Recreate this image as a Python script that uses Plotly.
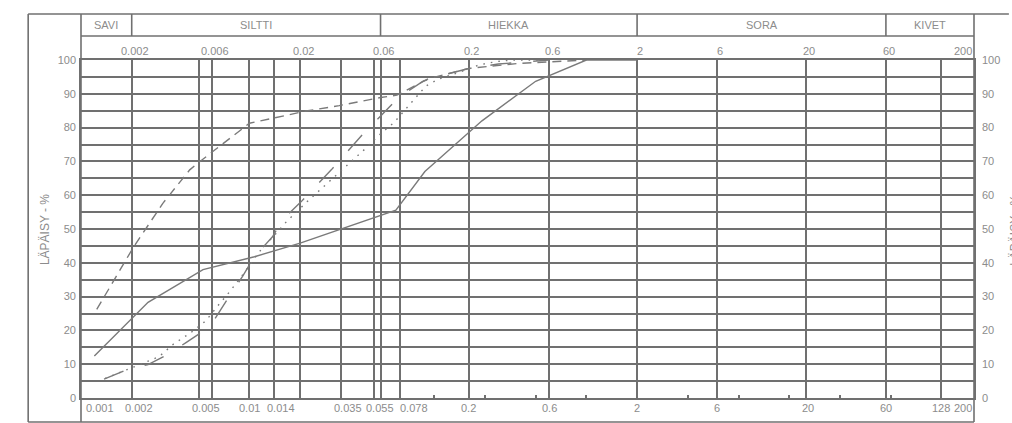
import math
import plotly.graph_objects as go

# Grain size (mm) and passing percentage for each sample curve
solid_size = [0.0012, 0.0025, 0.0053, 0.0107, 0.02, 0.035, 0.074, 0.11, 0.24, 0.5, 1.0, 2.0]
solid_pass = [12.4, 28.3, 38.0, 41.8, 45.8, 50.0, 55.6, 67.0, 82.0, 93.7, 100.0, 100.0]

dashed_size = [0.00124, 0.00203, 0.00306, 0.00442, 0.00506, 0.01, 0.0217, 0.0341, 0.06, 0.075,
               0.116, 0.2, 0.396, 0.6, 1.0]
dashed_pass = [26.2, 44.3, 57.6, 67.5, 69.9, 81.3, 84.9, 86.5, 88.9, 89.6,
               94.5, 97.5, 99.0, 99.5, 100.0]

longdash_size = [0.00137, 0.0019, 0.0025, 0.0033, 0.0042, 0.0058, 0.0078, 0.0091, 0.0107, 0.0137,
                 0.0157, 0.0203, 0.0306, 0.0466, 0.0564, 0.0711, 0.0861, 0.108, 0.143, 0.2,
                 0.3, 0.45, 0.6]
longdash_pass = [5.6, 8.5, 9.9, 13.0, 16.4, 21.0, 31.0, 36.0, 41.8, 47.7,
                 52.7, 58.1, 67.5, 77.8, 82.0, 87.2, 90.6, 93.8, 95.6, 97.5,
                 98.8, 99.5, 100.0]

dotted_size = [0.00139, 0.00177, 0.00226, 0.0029, 0.00355, 0.00448, 0.0055, 0.00647, 0.00762, 0.0091,
               0.01146, 0.0137, 0.0166, 0.022, 0.0297, 0.0401, 0.0486, 0.0588, 0.0721, 0.0861,
               0.1014, 0.1115, 0.133, 0.192, 0.229, 0.289, 0.36, 0.6]
dotted_pass = [5.8, 8.0, 10.0, 12.2, 16.0, 19.3, 22.8, 27.2, 31.4, 36.4,
               43.3, 47.5, 52.2, 58.1, 64.0, 69.7, 73.7, 77.8, 81.5, 85.9,
               89.8, 92.3, 94.4, 97.0, 98.5, 99.5, 100.0, 100.0]

# Axis furniture
size_min, size_max = 0.001, 200
grid_sizes = [0.002, 0.005, 0.006, 0.01, 0.014, 0.02, 0.035, 0.055, 0.06, 0.078,
              0.2, 0.6, 2, 6, 20, 60, 128]
minor_sizes = [0.125, 0.25, 0.5, 1, 4, 8, 16, 32, 64]
top_labels = ["0.002", "0.006", "0.02", "0.06", "0.2", "0.6", "2", "6", "20", "60", "200"]
bottom_labels = ["0.001", "0.002", "0.005", "0.01", "0.014", "0.035", "0.055", "0.078",
                 "0.2", "0.6", "2", "6", "20", "60", "128", "200"]
fraction_names = ["SAVI", "SILTTI", "HIEKKA", "SORA", "KIVET"]
fraction_bounds = [0.001, 0.002, 0.06, 2, 60, 200]
pass_grid = list(range(0, 101, 5))
pass_labels = [str(v) if v % 10 == 0 else "" for v in pass_grid]

W, H = 1012, 423
L, R, T, B = 81, 977, 60, 398          # plot area in pixels
LINE = "#707070"
TEXT = "#8c8c8c"
CURVE = "#7a7a7a"
FONT = "Liberation Sans, Arial, sans-serif"
FS = 11

lg_min, lg_max = math.log10(size_min), math.log10(size_max)


def px_x(px):
    return (px - L) / (R - L)


def px_y(py):
    return (B - py) / (B - T)


def size_to_paper(v):
    return (math.log10(v) - lg_min) / (lg_max - lg_min)


fig = go.Figure()

curves = [
    (solid_size, solid_pass, "solid"),
    (dashed_size, dashed_pass, "9px,6px"),
    (longdash_size, longdash_pass, "21px,22px"),
    (dotted_size, dotted_pass, "1.6px,6px"),
]
for xs, ys, dash in curves:
    fig.add_trace(go.Scatter(x=xs, y=ys, mode="lines",
                             line=dict(color=CURVE, width=1.4, dash=dash),
                             hoverinfo="skip", showlegend=False))

# companion trace so the right-hand percentage axis is drawn
fig.add_trace(go.Scatter(x=[size_min], y=[0], yaxis="y2", mode="markers",
                         marker=dict(opacity=0), hoverinfo="skip", showlegend=False))

shapes = []


def seg(x0, y0, x1, y1):
    shapes.append(dict(type="line", xref="paper", yref="paper",
                       x0=x0, y0=y0, x1=x1, y1=y1,
                       line=dict(color=LINE, width=1.6)))


# outer frame and header rows
seg(px_x(28), px_y(14), px_x(28), px_y(422))
seg(px_x(L), px_y(14), px_x(L), px_y(422))
seg(px_x(R), px_y(14), px_x(R), px_y(422))
seg(px_x(28), px_y(14), px_x(W), px_y(14))
seg(px_x(L), px_y(36), px_x(R), px_y(36))
seg(px_x(28), px_y(422), px_x(R), px_y(422))
for b in fraction_bounds[1:-1]:
    seg(size_to_paper(b), px_y(14), size_to_paper(b), px_y(36))

annotations = []
font = dict(family=FONT, size=FS, color=TEXT)

# soil fraction names
for i, name in enumerate(fraction_names):
    lo, hi = fraction_bounds[i], fraction_bounds[i + 1]
    mid = (size_to_paper(lo) + size_to_paper(hi)) / 2
    annotations.append(dict(text=name, xref="paper", yref="paper", x=mid, y=px_y(25),
                            showarrow=False, font=font, xanchor="center", yanchor="middle"))

# size labels above the grid
for lab in top_labels:
    v = float(lab)
    anchor, shift = "center", 3
    if lab == "200":
        anchor, shift = "right", 0
    annotations.append(dict(text=lab, xref="x", yref="paper", x=math.log10(v), y=px_y(51),
                            showarrow=False, font=font, xanchor=anchor, yanchor="middle",
                            xshift=shift))

# size labels below the grid
bottom_shift = {"0.001": 3, "0.002": 7, "0.005": 7, "0.014": 7, "0.035": 7,
                "0.055": 6, "0.078": 14, "20": 2}
for lab in bottom_labels:
    v = float(lab)
    anchor = "center"
    if lab == "0.001":
        anchor = "left"
    if lab == "200":
        anchor = "right"
    annotations.append(dict(text=lab, xref="x", yref="paper", x=math.log10(v), y=px_y(408),
                            showarrow=False, font=font, xanchor=anchor, yanchor="middle",
                            xshift=bottom_shift.get(lab, 0)))

# axis titles (the right-hand copy runs off the page edge)
title_font = dict(family=FONT, size=12, color=TEXT)
annotations.append(dict(text="LÄPÄISY - %", xref="paper", yref="paper", x=px_x(45), y=px_y(230),
                        showarrow=False, font=title_font, textangle=-90,
                        xanchor="center", yanchor="middle"))
annotations.append(dict(text="LÄPÄISY - %", xref="paper", yref="paper", x=px_x(1018), y=px_y(230),
                        showarrow=False, font=title_font, textangle=-90,
                        xanchor="center", yanchor="middle"))

fig.update_layout(
    width=W, height=H,
    margin=dict(l=L, r=W - R, t=T, b=H - B, pad=0),
    paper_bgcolor="white", plot_bgcolor="white",
    shapes=shapes, annotations=annotations,
    xaxis=dict(type="log", range=[lg_min, lg_max], tickvals=grid_sizes,
               showticklabels=False, ticks="", showgrid=True, gridcolor=LINE, gridwidth=1.6,
               zeroline=False, showline=True, linecolor=LINE, linewidth=1.6, mirror=True,
               minor=dict(tickvals=minor_sizes, ticks="inside", ticklen=3,
                          tickcolor=LINE, tickwidth=1.5, showgrid=False)),
    yaxis=dict(range=[0, 100], tickvals=pass_grid, ticktext=pass_labels,
               showgrid=True, gridcolor=LINE, gridwidth=1.6, ticks="", zeroline=False,
               showline=True, linecolor=LINE, linewidth=1.6, mirror=True,
               ticklabelstandoff=1,
               tickfont=dict(family=FONT, size=FS, color=TEXT)),
    yaxis2=dict(range=[0, 100], overlaying="y", side="right", tickvals=pass_grid,
                ticktext=pass_labels, showgrid=False, ticks="", zeroline=False,
                showline=False, ticklabelstandoff=7,
                tickfont=dict(family=FONT, size=FS, color=TEXT)),
)

fig.write_html("out.html")
